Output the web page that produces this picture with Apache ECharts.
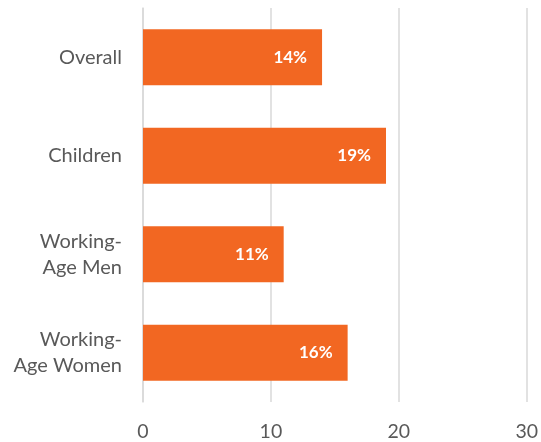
<!DOCTYPE html>
<html><head><meta charset="utf-8">
<script src="https://cdn.jsdelivr.net/npm/echarts@6/dist/echarts.min.js"></script>
<style>html,body{margin:0;padding:0;background:#fff}#c{width:541px;height:442px}</style>
</head><body><div id="c"></div>
<script>
const categories = ['Overall', 'Children', 'Working-\nAge Men', 'Working-\nAge Women'];
const values = [14, 19, 11, 16];
const xTicks = [0, 10, 20, 30];

const FONT = 'Lato, "Open Sans", sans-serif';
const chart = echarts.init(document.getElementById('c'), null, {renderer: 'canvas'});
chart.setOption({
  animation: false,
  grid: {left: 143, right: 14, top: 8, bottom: 40, containLabel: false},
  xAxis: {
    type: 'value', min: xTicks[0], max: xTicks[xTicks.length - 1], interval: 10,
    axisLine: {show: false}, axisTick: {show: false},
    splitLine: {lineStyle: {color: '#d9d9d9', width: 1.5}},
    axisLabel: {color: '#595959', fontSize: 19.5, fontFamily: FONT, margin: 20}
  },
  yAxis: {
    type: 'category', data: categories, inverse: true,
    axisLine: {lineStyle: {color: '#d9d9d9', width: 1.5}},
    axisTick: {length: 7, lineStyle: {color: '#d9d9d9', width: 1.5}},
    axisLabel: {color: '#595959', fontSize: 20, fontFamily: FONT, margin: 21, lineHeight: 26, align: 'right'}
  },
  series: [{
    type: 'bar', data: values, barCategoryGap: '43%',
    itemStyle: {color: '#F26722'},
    label: {show: true, position: 'insideRight', distance: 15, formatter: '{c}%', color: '#fff', fontWeight: 'bold', fontSize: 17, fontFamily: FONT}
  }]
});
</script></body></html>
